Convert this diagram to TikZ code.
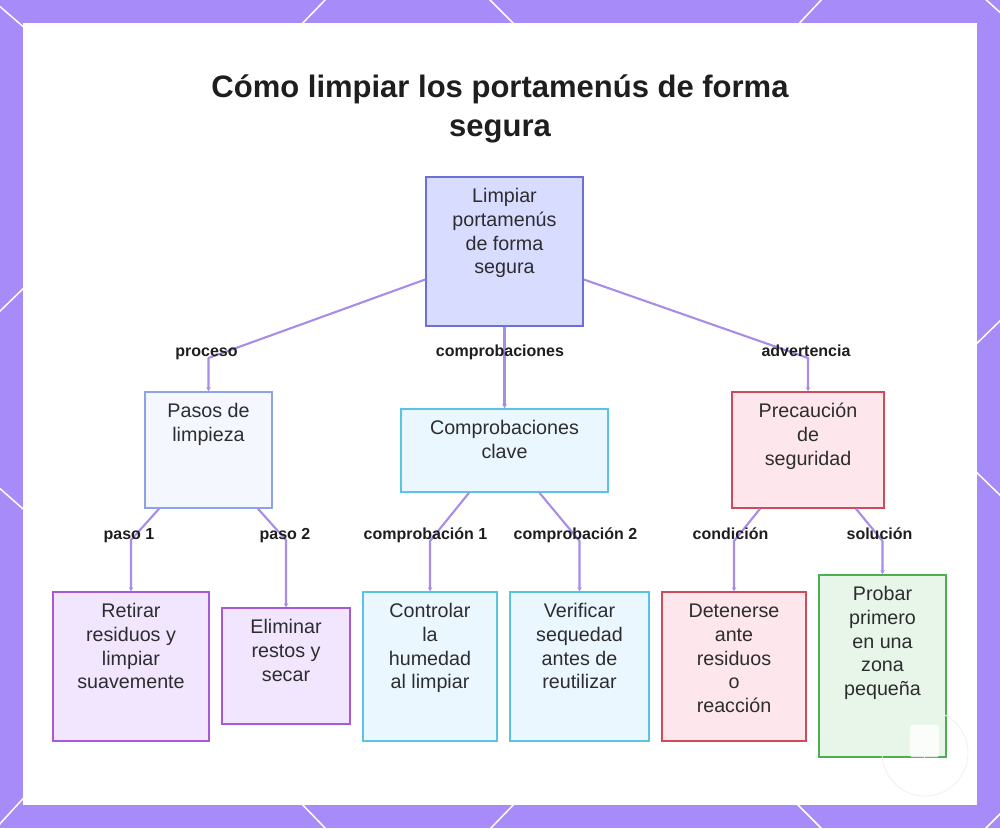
\documentclass[tikz,border=0pt]{standalone}
\usepackage{fontspec}
\setmainfont{Liberation Sans}
\usetikzlibrary{arrows.meta,calc}
\definecolor{bgpurple}{RGB}{167,139,248}
\definecolor{edgec}{RGB}{168,140,232}
\definecolor{txt}{RGB}{45,45,48}
\definecolor{lbltxt}{RGB}{30,30,30}
\definecolor{rootfill}{RGB}{216,220,255}
\definecolor{rootdraw}{RGB}{108,112,214}
\definecolor{blfill}{RGB}{245,247,255}
\definecolor{bldraw}{RGB}{140,164,230}
\definecolor{cyfill}{RGB}{234,247,254}
\definecolor{cydraw}{RGB}{88,196,226}
\definecolor{rdfill}{RGB}{253,231,236}
\definecolor{rddraw}{RGB}{208,74,90}
\definecolor{pufill}{RGB}{241,230,253}
\definecolor{pudraw}{RGB}{166,90,214}
\definecolor{grfill}{RGB}{231,246,233}
\definecolor{grdraw}{RGB}{76,176,80}
\newcommand\nfont{\fontsize{19.7}{23.8}\selectfont}
\newcommand\lfont{\fontsize{16}{18}\selectfont\bfseries}
\newcommand\tfont{\fontsize{31}{39}\selectfont\bfseries}
\newcommand\bt[3]{\parbox[c][#2][t]{#1}{\centering\vspace*{8.9pt}\strut #3}}
\tikzset{
  box/.style={draw, line width=1.6pt, inner sep=0pt, font=\nfont, text=txt},
  rootbox/.style={box, fill=rootfill, draw=rootdraw},
  bluebox/.style={box, fill=blfill, draw=bldraw},
  cyanbox/.style={box, fill=cyfill, draw=cydraw},
  redbox/.style={box, fill=rdfill, draw=rddraw},
  purplebox/.style={box, fill=pufill, draw=pudraw},
  greenbox/.style={box, fill=grfill, draw=grdraw},
  edge/.style={draw=edgec, line width=2.1pt, line join=round, -{Stealth[length=4pt,width=4.5pt]}},
  lbl/.style={font=\lfont, text=lbltxt, inner sep=0pt, anchor=base},
  frameline/.style={draw=white, line width=1.5pt}
}
\begin{document}
\begin{tikzpicture}[x=1pt,y=-1pt]
\useasboundingbox (0,0) rectangle (1000,828);
\fill[bgpurple] (0,0) rectangle (1000,828);
% white diagonal lines of the frame
\draw[frameline] (-3,4) -- (34,36);
\draw[frameline] (328,-3) -- (296,30);
\draw[frameline] (487,-3) -- (520,30);
\draw[frameline] (824,-3) -- (793,30);
\draw[frameline] (983,-3) -- (1004,16);
\draw[frameline] (-3,314) -- (30,282);
\draw[frameline] (-3,486) -- (30,515);
\draw[frameline] (-3,827) -- (30,791);
\draw[frameline] (970,350) -- (1004,317);
\draw[frameline] (970,466) -- (1004,499);
\draw[frameline] (983,831) -- (1004,810);
\draw[frameline] (296,798) -- (328,831);
\draw[frameline] (520,798) -- (488,831);
\draw[frameline] (791,798) -- (824,831);
% panel
\fill[white] (23,23) rectangle (977,805);
\fill[black!3] (830,700) circle (0pt);
% title
\node[font=\tfont, text=lbltxt, align=center, inner sep=0pt, anchor=north] (title) at (500,69.7)
  {\strut Cómo limpiar los portamenús de forma\\segura};
% nodes
\node[rootbox] (root) at (504.5,251.5) {\bt{157pt}{149pt}{Limpiar\\portamenús\\de forma\\segura}};
\node[bluebox] (pasos) at (208.5,450) {\bt{127pt}{116pt}{Pasos de\\limpieza}};
\node[cyanbox] (comp) at (504.5,450.5) {\bt{207pt}{83pt}{Comprobaciones\\clave}};
\node[redbox] (prec) at (808,450) {\bt{152pt}{116pt}{Precaución\\de\\seguridad}};
\node[purplebox] (retirar) at (131,666.5) {\bt{156pt}{149pt}{Retirar\\residuos y\\limpiar\\suavemente}};
\node[purplebox] (elim) at (286,666) {\bt{128pt}{116pt}{Eliminar\\restos y\\secar}};
\node[cyanbox] (contr) at (430,666.5) {\bt{134pt}{149pt}{Controlar\\la\\humedad\\al limpiar}};
\node[cyanbox] (verif) at (579.5,666.5) {\bt{139pt}{149pt}{Verificar\\sequedad\\antes de\\reutilizar}};
\node[redbox] (deten) at (734,666.5) {\bt{144pt}{149pt}{Detenerse\\ante\\residuos\\o\\reacción}};
\node[greenbox] (probar) at (882.5,666) {\bt{127pt}{182pt}{Probar\\primero\\en una\\zona\\pequeña}};
% connectors
\draw[edge] ([yshift=-28pt]root.west) -- (208.5,358) -- (pasos.north);
\draw[edge] (root.south) -- (comp.north);
\draw[edge] ([yshift=-28pt]root.east) -- (808,358) -- (prec.north);
\draw[edge] ([xshift=-49.5pt]pasos.south) -- (131,540) -- (retirar.north);
\draw[edge] ([xshift=49.5pt]pasos.south) -- (286,540) -- (elim.north);
\draw[edge] ([xshift=-35.5pt]comp.south) -- (430,541) -- (contr.north);
\draw[edge] ([xshift=35pt]comp.south) -- (579.5,541) -- (verif.north);
\draw[edge] ([xshift=-48pt]prec.south) -- (734,541) -- (deten.north);
\draw[edge] ([xshift=48pt]prec.south) -- (882.5,541) -- (probar.north);
% connector labels
\node[lbl] (lproceso) at (206.5,356) {proceso};
\node[lbl] (lcomp) at (500,356) {comprobaciones};
\node[lbl] (ladv) at (806,356) {advertencia};
\node[lbl] (lp1) at (129,539) {paso 1};
\node[lbl] (lp2) at (285,539) {paso 2};
\node[lbl] (lc1) at (425.5,539) {comprobación 1};
\node[lbl] (lc2) at (575.5,539) {comprobación 2};
\node[lbl] (lcond) at (730.5,539) {condición};
\node[lbl] (lsol) at (879.5,539) {solución};
% faint watermark at bottom right
\draw[black!6, line width=0.8pt] (925,753) circle (43);
\fill[white, opacity=0.8, rounded corners=2pt] (910,725) rectangle (939,757);
\draw[white, line width=1pt, opacity=0.8] (924.5,757) -- (924.5,766) (916,766) -- (933,766);
\end{tikzpicture}
\end{document}
